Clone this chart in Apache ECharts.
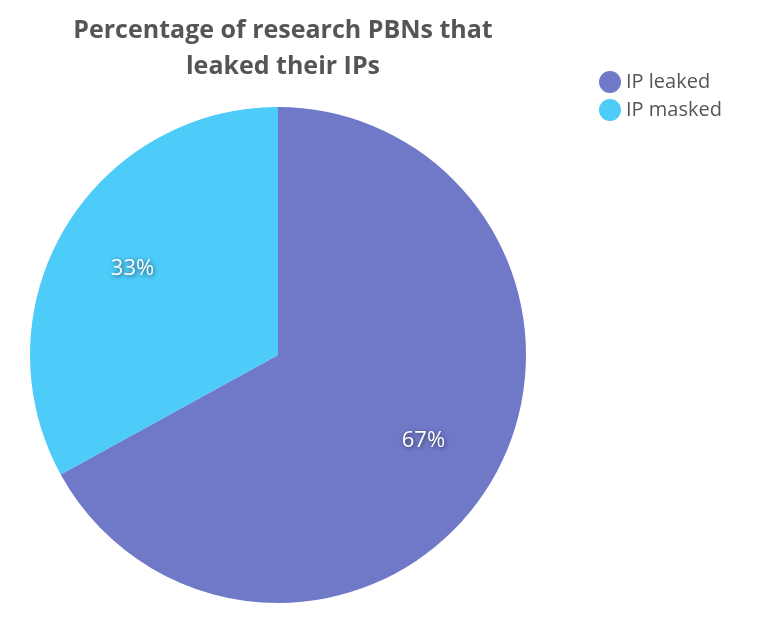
<!DOCTYPE html>
<html><head><meta charset="utf-8">
<script src="https://cdn.jsdelivr.net/npm/echarts@6/dist/echarts.min.js"></script>
<style>html,body{margin:0;padding:0;background:#fff}#c{width:768px;height:623px}</style>
</head><body><div id="c"></div>
<script>
const categories = ['IP leaked', 'IP masked'];
const values = [67, 33];
const colors = ['#6f79c8', '#4dcbf9'];
const data = categories.map((n, i) => ({name: n, value: values[i], itemStyle: {color: colors[i]}}));
const chart = echarts.init(document.getElementById('c'));
chart.setOption({
  animation: false,
  title: {text: 'Percentage of research PBNs that\nleaked their IPs', left: 278, top: 8, textAlign: 'center',
    textStyle: {fontFamily: 'Open Sans', fontSize: 25, fontWeight: 'bold', color: '#555', lineHeight: 36}},
  legend: {orient: 'vertical', left: 594, top: 66, icon: 'circle', itemWidth: 22, itemHeight: 22, itemGap: 6,
    data: categories, textStyle: {fontFamily: 'Open Sans', fontSize: 20, color: '#555'}},
  series: [
    {type: 'pie', center: [278, 355], radius: [0, 248], startAngle: 90, label: {show: false}, labelLine: {show: false}, data: data},
    {type: 'pie', center: [278, 355], radius: [0, 332], startAngle: 90, silent: true, labelLine: {show: false},
     itemStyle: {color: 'transparent'},
     label: {position: 'inner', formatter: '{c}%', color: '#fff', fontFamily: 'Open Sans', fontSize: 22,
       textShadowColor: 'rgba(0,0,0,0.6)', textShadowBlur: 4, textShadowOffsetX: 1, textShadowOffsetY: 1},
     data: categories.map((n, i) => ({name: n, value: values[i], itemStyle: {color: 'transparent'}}))}
  ]
});
</script></body></html>
